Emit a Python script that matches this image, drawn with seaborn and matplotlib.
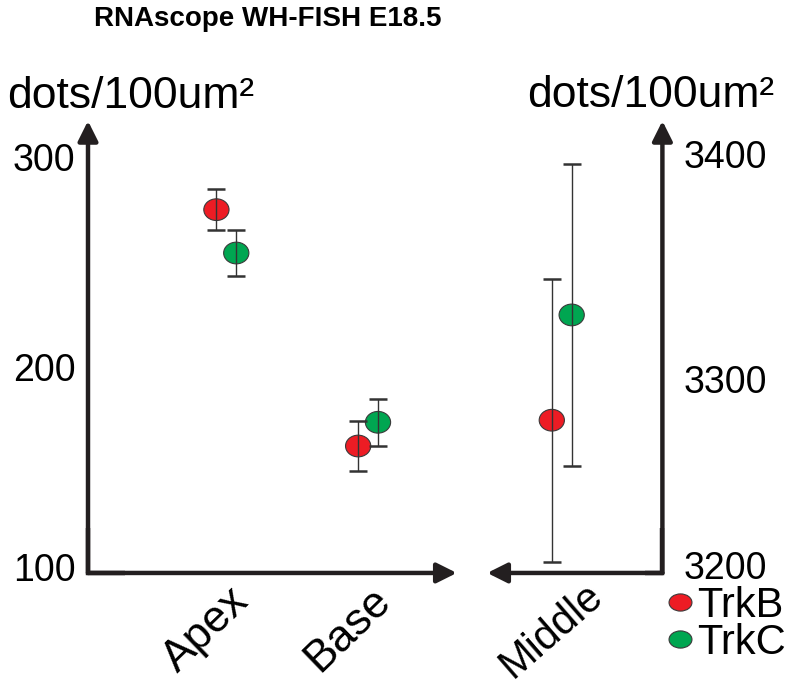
import numpy as np
import pandas as pd
import seaborn as sns
import matplotlib.pyplot as plt
from matplotlib.path import Path
from matplotlib.lines import Line2D
from matplotlib.transforms import Affine2D, ScaledTranslation

# values (mean +/- error)
categories = ['Apex', 'Base', 'Middle']
genes = ['TrkB', 'TrkC']
trkb_mean = [276, 161.5, 3274]
trkb_err = [10, 12, 68.5]
trkc_mean = [255, 173, 3325]
trkc_err = [11, 11.5, 73]
left_ticks = [100, 200, 300]
right_ticks = [3200, 3300, 3400]

colours = {'TrkB': '#ed1c24', 'TrkC': '#00a651'}
dodge = {'TrkB': -0.07, 'TrkC': 0.07}
ink = '#231f20'

rows = []
for i, cat in enumerate(categories):
    rows.append(dict(region=cat, gene='TrkB', mean=trkb_mean[i], err=trkb_err[i]))
    rows.append(dict(region=cat, gene='TrkC', mean=trkc_mean[i], err=trkc_err[i]))
df = pd.DataFrame(rows)
df['x'] = df['region'].map({c: i for i, c in enumerate(categories)}) + df['gene'].map(dodge)

sns.set_style('white')
plt.rcParams['font.family'] = ['Liberation Sans', 'DejaVu Sans']
for k in ['text.color', 'xtick.color', 'ytick.color', 'axes.labelcolor']:
    plt.rcParams[k] = 'black'

ellipse = Path.unit_circle().transformed(Affine2D().scale(1.0, 0.86))
ellipse_leg = Path.unit_circle().transformed(Affine2D().scale(1.0, 0.75))

fig = plt.figure(figsize=(8, 6.87), dpi=100)
ax1 = fig.add_axes([0.11, 0.166, 0.461, 0.658])
ax2 = fig.add_axes([0.609, 0.166, 0.219, 0.658])


def draw(ax, sub):
    sns.scatterplot(data=sub, x='x', y='mean', hue='gene', palette=colours,
                    marker=ellipse, s=330, edgecolor='#3a3a3a', linewidth=0.8,
                    legend=False, ax=ax, zorder=2)
    ax.errorbar(sub['x'], sub['mean'], yerr=sub['err'], fmt='none',
                ecolor='#333333', elinewidth=1, capsize=6.5, capthick=1.8, zorder=3)
    for s in ax.spines.values():
        s.set_visible(False)
    ax.set_xlabel('')
    ax.set_ylabel('')


def axis_lines(ax, corner, ends):
    cx, cy = corner
    # square corner
    ax.plot([cx, cx, cx + (0.1 if cx == 0 else -0.1)], [0.1, 0, 0], color=ink, lw=3.2,
            transform=ax.transAxes, clip_on=False, solid_joinstyle='miter',
            solid_capstyle='butt')
    for end in ends:
        ax.annotate('', xy=end, xytext=corner, xycoords='axes fraction',
                    textcoords='axes fraction',
                    arrowprops=dict(arrowstyle='-|>,head_length=0.6,head_width=0.3',
                                    mutation_scale=20, lw=3.2, color=ink,
                                    shrinkA=0, shrinkB=0))


def nudge(labels, dx_px, dy_px):
    for lab, dx, dy in zip(labels, dx_px, dy_px):
        lab.set_transform(lab.get_transform()
                          + ScaledTranslation(dx / 100, dy / 100, fig.dpi_scale_trans))


left = df[df['region'] != 'Middle']
right = df[df['region'] == 'Middle']

draw(ax1, left)
ax1.set_xlim(-0.976, 1.626)
ax1.set_ylim(100, 319)
ax1.set_yticks(left_ticks)
ax1.set_xticks([0, 1])
ax1.set_xticklabels(categories[:2], rotation=44, fontsize=32)
ax1.tick_params(axis='y', length=0, pad=9, labelsize=27)
ax1.tick_params(axis='x', length=0, pad=5)
axis_lines(ax1, (0, 0), [(0, 1), (1, 0)])
nudge(ax1.get_yticklabels(), [0, 0, 0], [6, 0, 3])
nudge(ax1.get_xticklabels(), [-20, -20], [0, 0])

draw(ax2, right)
ax2.set_xlim(2 - 0.525, 2 + 0.709)
ax2.set_ylim(3200, 3419)
ax2.yaxis.tick_right()
ax2.set_yticks(right_ticks)
ax2.set_xticks([2])
ax2.set_xticklabels(categories[2:], rotation=41, fontsize=30)
ax2.tick_params(axis='y', length=0, pad=15, labelsize=27)
ax2.tick_params(axis='x', length=0, pad=2)
axis_lines(ax2, (1, 0), [(1, 1), (0, 0)])
nudge(ax2.get_yticklabels(), [0, 0, 0], [8, -12, 6])
nudge(ax2.get_xticklabels(), [-10], [0])

fig.text(268 / 800, 1 - 19 / 687, 'RNAscope WH-FISH E18.5', ha='center', va='center',
         fontsize=20, fontweight='bold')
fig.text(131 / 800, 1 - 108 / 687, 'dots/100um²', ha='center', va='baseline', fontsize=32)
fig.text(651 / 800, 1 - 107 / 687, 'dots/100um²', ha='center', va='baseline', fontsize=32)

handles = [Line2D([], [], marker=ellipse_leg, ls='', markersize=16.5,
                  markerfacecolor=colours[g], markeredgecolor='#3a3a3a',
                  markeredgewidth=0.8) for g in genes]
fig.legend(handles, genes, loc='upper left', bbox_to_anchor=(669 / 800, 1 - 586 / 687),
           frameon=False, fontsize=30, handlelength=0.55, handletextpad=0.12,
           labelspacing=-0.08, borderpad=0, borderaxespad=0)

fig.savefig('out.png', dpi=100)
